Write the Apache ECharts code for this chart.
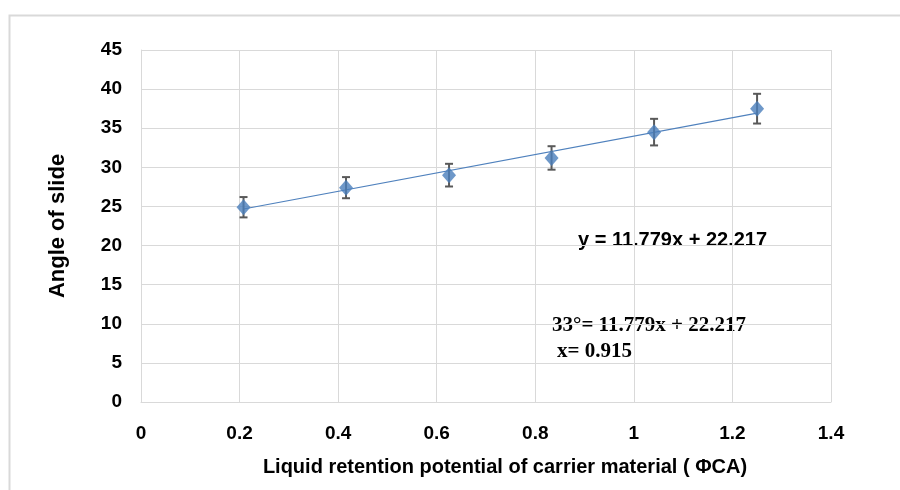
<!DOCTYPE html>
<html>
<head>
<meta charset="utf-8">
<script src="https://cdn.jsdelivr.net/npm/echarts@6/dist/echarts.min.js"></script>
<style>html,body{margin:0;padding:0;background:#fff;}#chart{width:900px;height:490px;}</style>
</head>
<body>
<div id="chart"></div>
<script>
// Data
const xValues = [0.208, 0.416, 0.625, 0.833, 1.041, 1.25];
const angleValues = [24.9, 27.4, 29.0, 31.2, 34.5, 37.5];
const errorValues = [1.3, 1.35, 1.45, 1.5, 1.7, 1.9];
const trendX = [0.208, 1.25];
const trendY = [24.67, 36.94];
const xTicks = [0, 0.2, 0.4, 0.6, 0.8, 1, 1.2, 1.4];
const yTicks = [0, 5, 10, 15, 20, 25, 30, 35, 40, 45];
const equationText = 'y = 11.779x + 22.217';
const solveText1 = '33°= 11.779x + 22.217';
const solveText2 = 'x= 0.915';

const points = xValues.map((x, i) => [x, angleValues[i]]);
const errData = xValues.map((x, i) => [x, angleValues[i] - errorValues[i], angleValues[i] + errorValues[i]]);
const trendData = trendX.map((x, i) => [x, trendY[i]]);

const chart = echarts.init(document.getElementById('chart'), null, {renderer: 'canvas'});
const fontSans = '"Liberation Sans", Arial, sans-serif';
const gridColor = '#d9d9d9';

chart.setOption({
  animation: false,
  backgroundColor: '#fff',
  grid: {left: 141, right: 69, top: 50, bottom: 88},
  xAxis: {
    type: 'value', min: 0, max: 1.4, interval: 0.2,
    name: 'Liquid retention potential of carrier material ( ΦCA)',
    nameLocation: 'middle', nameGap: 55,
    nameTextStyle: {fontFamily: fontSans, fontWeight: 'bold', fontSize: 20, color: '#000', padding: [0, 0, 0, 38]},
    axisLine: {show: true, lineStyle: {color: gridColor, width: 1}},
    axisTick: {show: false},
    splitLine: {show: true, lineStyle: {color: gridColor, width: 1}},
    axisLabel: {
      margin: 22, fontFamily: fontSans, fontWeight: 'bold', fontSize: 19, color: '#000',
      formatter: v => { const t = xTicks.find(k => Math.abs(k - v) < 1e-6); return t === undefined ? '' : String(t); }
    }
  },
  yAxis: {
    type: 'value', min: 0, max: 45, interval: 5,
    name: 'Angle of slide',
    nameLocation: 'middle', nameGap: 72,
    nameTextStyle: {fontFamily: fontSans, fontWeight: 'bold', fontSize: 22, color: '#000'},
    axisLine: {show: true, lineStyle: {color: gridColor, width: 1}},
    axisTick: {show: false},
    splitLine: {show: true, lineStyle: {color: gridColor, width: 1}},
    axisLabel: {
      margin: 19, fontFamily: fontSans, fontWeight: 'bold', fontSize: 19, color: '#000',
      formatter: v => { const t = yTicks.find(k => Math.abs(k - v) < 1e-6); return t === undefined ? '' : String(t); }
    }
  },
  series: [
    {
      type: 'line', data: trendData, symbol: 'none', z: 2,
      lineStyle: {color: '#4f81bd', width: 1.2}
    },
    {
      type: 'custom', z: 3,
      data: errData,
      renderItem: function (params, api) {
        const x = api.value(0);
        const lo = api.coord([x, api.value(1)]);
        const hi = api.coord([x, api.value(2)]);
        const cap = 4;
        const style = {stroke: '#595959', lineWidth: 2};
        return {
          type: 'group',
          children: [
            {type: 'line', shape: {x1: lo[0], y1: lo[1], x2: hi[0], y2: hi[1]}, style: style},
            {type: 'line', shape: {x1: lo[0] - cap, y1: lo[1], x2: lo[0] + cap, y2: lo[1]}, style: style},
            {type: 'line', shape: {x1: hi[0] - cap, y1: hi[1], x2: hi[0] + cap, y2: hi[1]}, style: style}
          ]
        };
      }
    },
    {
      type: 'scatter', data: points, z: 4,
      symbol: 'diamond', symbolSize: [14, 16],
      itemStyle: {color: '#4a7ebb'}
    }
  ],
  graphic: [
    {type: 'rect', left: 7, top: 13, shape: {width: 900, height: 490}, style: {fill: 'none', stroke: '#d9d9d9', lineWidth: 2}, silent: true},
    {type: 'text', left: 578, top: 230, style: {text: equationText, font: 'bold 20px ' + fontSans, fill: '#000'}},
    {type: 'text', left: 552, top: 315, style: {text: solveText1, font: 'bold 21px "Liberation Serif", "Times New Roman", serif', fill: '#000'}},
    {type: 'text', left: 557, top: 341, style: {text: solveText2, font: 'bold 21px "Liberation Serif", "Times New Roman", serif', fill: '#000'}}
  ]
});
</script>
</body>
</html>
